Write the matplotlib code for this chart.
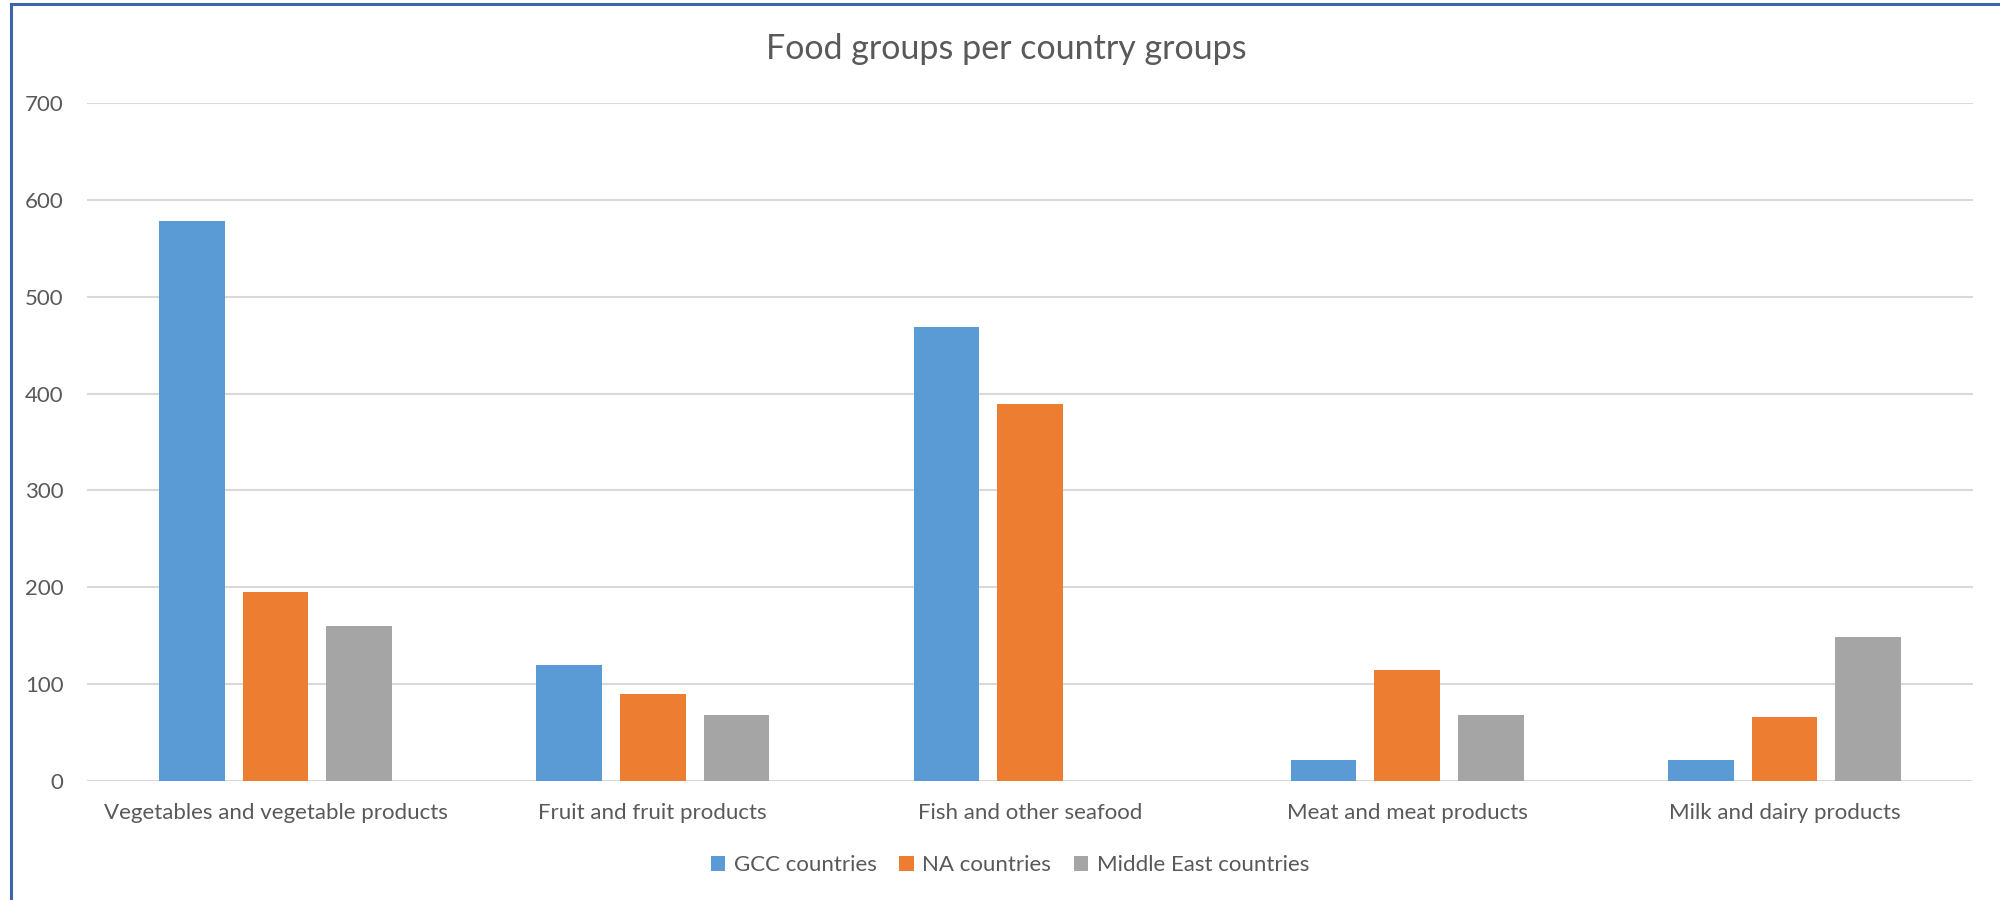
import matplotlib.pyplot as plt
import numpy as np
from matplotlib.lines import Line2D

categories = [
    "Vegetables and vegetable products",
    "Fruit and fruit products",
    "Fish and other seafood",
    "Meat and meat products",
    "Milk and dairy products",
]
series_names = ["GCC countries", "NA countries", "Middle East countries"]
gcc = [578, 120, 469, 22, 22]
na = [195, 90, 389, 115, 66]
middle_east = [160, 68, 0, 68, 149]
colors = ["#5B9BD5", "#ED7D31", "#A5A5A5"]
y_ticks = [0, 100, 200, 300, 400, 500, 600, 700]

plt.rcParams["font.family"] = ["Lato", "DejaVu Sans"]
text_color = "#595959"

fig = plt.figure(figsize=(20, 9), dpi=100)
ax = fig.add_axes([0.0435, 0.1322, 0.943, 0.7533])

x = np.arange(len(categories))
step = 0.2216
width = 0.1737
for i, (name, vals) in enumerate(zip(series_names, [gcc, na, middle_east])):
    ax.bar(x + (i - 1) * step, vals, width, color=colors[i], label=name, zorder=3)

ax.set_xlim(-0.5, len(categories) - 0.5)
ax.set_ylim(0, 700)
ax.set_yticks(y_ticks)
ax.set_xticks(x)
ax.set_xticklabels(categories)
ax.tick_params(axis="x", length=0, pad=16, labelsize=16, labelcolor=text_color)
ax.tick_params(axis="y", length=0, pad=17, labelsize=16, labelcolor=text_color)
ax.yaxis.grid(True, color="#D9D9D9", linewidth=1.5, zorder=0)
for s in ax.spines.values():
    s.set_visible(False)

fig.suptitle("Food groups per country groups", x=0.503, y=0.946, fontsize=24.5,
             color=text_color, va="center")

leg = fig.legend(loc="center", bbox_to_anchor=(0.505, 0.039), ncol=3, frameon=False,
                 fontsize=16, handlelength=0.65, handleheight=0.65, handletextpad=0.4,
                 columnspacing=1.0, labelcolor=text_color)

# chart border (left and top visible)
fig.add_artist(Line2D([0.0055, 0.0055], [0, 0.9955], color="#3F64AE", linewidth=2.2))
fig.add_artist(Line2D([0.0055, 1.0], [0.9955, 0.9955], color="#3F64AE", linewidth=2.2))

fig.savefig("out.png", dpi=100)
